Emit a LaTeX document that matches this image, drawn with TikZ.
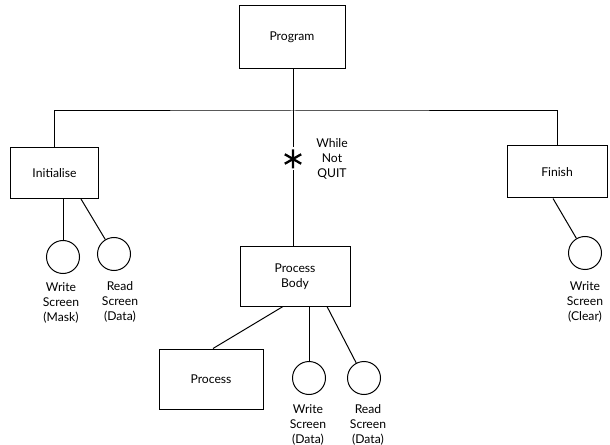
\documentclass[tikz,border=0pt]{standalone}
\usepackage{fontspec}
\setmainfont{Lato}
\begin{document}
\begin{tikzpicture}[x=1bp,y=-1bp,
  every path/.style={line width=1bp},
  txt/.style={font=\fontsize{12.2}{14.8}\selectfont, align=center, inner sep=0},
  boxn/.style={draw, rectangle, txt, minimum width=#1},
  act/.style={draw, circle, minimum size=33bp, inner sep=0},
  lab/.style={txt}]
\useasboundingbox (0,0) rectangle (610,445);
% boxes
\node[boxn=106bp, minimum height=63bp] (prog) at (292,37.5) {Program};
\node[boxn=87bp, minimum height=51bp] (init) at (54.5,173) {Initialise};
\node[boxn=100bp, minimum height=52bp] (fin) at (557,172) {Finish};
\node[boxn=110bp, minimum height=59bp] (pb) at (295,276.5) {Process\\Body};
\node[boxn=104bp, minimum height=60bp] (proc) at (211,379) {Process};
% circles
\node[act] (c1) at (63,257) {};
\node[act] (c2) at (114,254) {};
\node[act] (c3) at (585,253) {};
\node[act] (c4) at (309,378) {};
\node[act] (c5) at (364,378) {};
% labels
\node[lab] (l1) at (61,303) {Write\\Screen\\(Mask)};
\node[lab] (l2) at (120,302) {Read\\Screen\\(Data)};
\node[lab] (l3) at (585,302) {Write\\Screen\\(Clear)};
\node[lab] (l4) at (308,425) {Write\\Screen\\(Data)};
\node[lab] (l5) at (368,425) {Read\\Screen\\(Data)};
\node[lab] (wl) at (332,159) {While\\Not\\QUIT};
% iteration asterisk
\node[circle, minimum size=22bp, inner sep=0] (ast) at (293,159) {};
\draw[line width=2.3bp] (ast.center) +(0,-9.5) -- +(0,9.5)
  (ast.center) +(-8.2,-4.75) -- +(8.2,4.75)
  (ast.center) +(-8.2,4.75) -- +(8.2,-4.75);
% structure
\coordinate (bar) at (293,111);
\draw (prog.south -| bar) -- (bar);
\draw (init.north) |- (bar) -| (fin.north);
\draw (bar) -- (ast.north);
\draw (ast.south) -- (pb.north -| ast);
% children
\draw (init.south -| c1) -- (c1.north);
\draw ([xshift=26.5bp]init.south) -- (c2);
\draw ([xshift=-4bp]fin.south) -- (c3);
\draw ([xshift=-12bp]pb.south) -- ([xshift=2bp]proc.north);
\draw (pb.south -| c4) -- (c4.north);
\draw ([xshift=32bp]pb.south) -- (c5);
\end{tikzpicture}
\end{document}
